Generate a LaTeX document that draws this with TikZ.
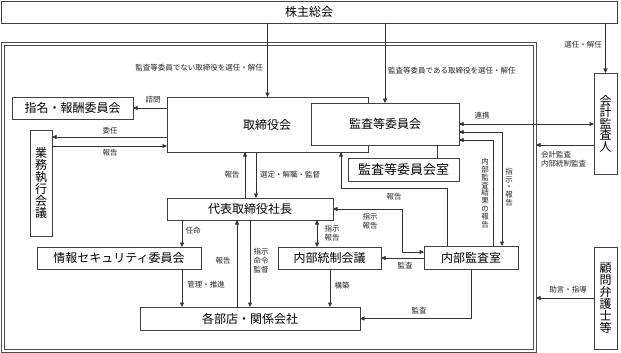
\documentclass[tikz,border=0pt]{standalone}
\usepackage{fontspec}
\setmainfont{Noto Sans CJK JP}
\usetikzlibrary{arrows.meta,calc}
\begin{document}
\begin{tikzpicture}[x=1pt,y=-1pt,
  box/.style={draw=black!75,line width=0.7pt,fill=white,inner sep=0pt,outer sep=0pt,
    anchor=north west,font=\fontsize{12}{14}\selectfont},
  vbox/.style={box,align=center,font=\fontsize{12}{12}\selectfont},
  lab/.style={inner sep=0pt,font=\fontsize{7.5}{9}\selectfont,align=center,text=black!85},
  vlab/.style={inner sep=0pt,font=\fontsize{7.5}{7.8}\selectfont,align=center,text=black!85},
  ln/.style={draw=black!80,line width=0.7pt},
  arr/.style={ln,-{Triangle[length=4.5pt,width=4pt]}},
  darr/.style={ln,{Triangle[length=4.5pt,width=4pt]}-{Triangle[length=4.5pt,width=4pt]}},
  framest/.style={draw=black!70,line width=0.7pt,inner sep=0pt,outer sep=0pt,anchor=north west}
]
\useasboundingbox (0,0) rectangle (621,353);
\fill[white] (0,0) rectangle (621,353);

% helper coordinates
\coordinate (x182) at (182,0);
\coordinate (x237) at (237,0);
\coordinate (x245) at (245,0);
\coordinate (x250) at (250,0);
\coordinate (x256) at (256,0);
\coordinate (x317) at (317,0);
\coordinate (x330) at (330,0);
\coordinate (x341) at (341,0);
\coordinate (x402) at (402,0);
\coordinate (x437) at (437,0);
\coordinate (x447) at (447,0);
\coordinate (x493) at (493,0);
\coordinate (x502) at (502,0);
\coordinate (y124) at (0,124);
\coordinate (y132) at (0,132);
\coordinate (y137) at (0,137);
\coordinate (y140) at (0,140);
\coordinate (y145) at (0,145);
\coordinate (y146) at (0,146);
\coordinate (y188) at (0,188);
\coordinate (y252) at (0,252);

% frame
\node[framest,minimum width=535pt,minimum height=310pt] (frame) at (1,42) {};
\node[framest,minimum width=529pt,minimum height=304pt] (framein) at (4,45) {};

% boxes
\node[box,minimum width=616pt,minimum height=22pt] (kabu) at (1,1) {株主総会};
\node[box,minimum width=201pt,minimum height=55pt] (tori) at (167,97) {\hspace*{0pt}};
\node[font=\fontsize{12}{14}\selectfont,inner sep=0pt] (toritext) at (267,125) {取締役会};
\node[box,minimum width=148pt,minimum height=42pt] (kansa) at (311,103) {監査等委員会};
\node[box,minimum width=111pt,minimum height=23pt,font=\fontsize{13}{15}\selectfont] (shitsu) at (348,158) {監査等委員会室};
\node[vbox,minimum width=23pt,minimum height=101pt,font=\fontsize{12}{11.5}\selectfont] (kaikei) at (594,73) {会\\計\\監\\査\\人};
\node[box,minimum width=121pt,minimum height=22pt] (shimei) at (12,97) {指名・報酬委員会};
\node[vbox,minimum width=22pt,minimum height=106pt] (gyomu) at (30,130) {業\\務\\執\\行\\会\\議};
\node[box,minimum width=166pt,minimum height=22pt] (daihyo) at (167,198) {代表取締役社長};
\node[box,minimum width=164pt,minimum height=22pt] (joho) at (37,247) {情報セキュリティ委員会};
\node[box,minimum width=103pt,minimum height=22pt] (tosei) at (278,247) {内部統制会議};
\node[box,minimum width=94pt,minimum height=23pt] (naibu) at (424,246) {内部監査室};
\node[box,minimum width=220pt,minimum height=23pt] (kakubu) at (140,307) {各部店・関係会社};
\node[vbox,minimum width=23pt,minimum height=102pt] (komon) at (594,247) {顧\\問\\弁\\護\\士\\等};

% connectors
\draw[arr] (kabu.south -| tori.north) -- (tori.north);
\draw[arr] (kabu.south -| kansa.north) -- (kansa.north);
\draw[arr] (kabu.south -| kaikei.north) -- (kaikei.north);
\draw[arr] (tori.west |- shimei.east) -- (shimei.east);
\draw[arr] (tori.west |- y137) -- (gyomu.east |- y137);
\draw[arr] (gyomu.east |- y146) -- (tori.west |- y146);
\draw[arr] (daihyo.north -| x245) -- (tori.south -| x245);
\draw[arr] (tori.south -| x256) -- (daihyo.north -| x256);
\draw[ln] (kansa.south -| x437) -- (shitsu.north -| x437);
\draw[darr] (kansa.east |- y124) -- (kaikei.west |- y124);
\draw[arr] (kaikei.west |- y145) -- (frame.east |- y145);
\draw[arr] (naibu.north -| x447) -- (x447 |- y188) -- (x341 |- y188) -- (tori.south -| x341);
\draw[arr] (naibu.north -| x493) |- (kansa.east |- y140);
\draw[darr] (kansa.east |- y132) -| (naibu.north -| x502);
\draw[darr] (daihyo.east) -| (x402 |- y252) -- (naibu.west |- y252);
\draw[darr] (daihyo.south -| x317) -- (tosei.north -| x317);
\draw[arr] (naibu.west |- tosei.east) -- (tosei.east);
\draw[arr] (daihyo.south -| x182) -- (joho.north -| x182);
\draw[arr] (joho.south -| x182) -- (kakubu.north -| x182);
\draw[arr] (kakubu.north -| x237) -- (daihyo.south -| x237);
\draw[arr] (daihyo.south -| x250) -- (kakubu.north -| x250);
\draw[arr] (tosei.south -| x330) -- (kakubu.north -| x330);
\draw[arr] (naibu.south) |- (kakubu.east);
\draw[arr] (komon.west) -- (frame.east |- komon.west);

% labels
\node[lab,anchor=east] (l1) at (263,68) {監査等委員でない取締役を選任・解任};
\node[lab,anchor=west] (l2) at (388,71) {監査等委員である取締役を選任・解任};
\node[lab] (l3) at (583,45) {選任・解任};
\node[lab] (l4) at (153,100) {諮問};
\node[lab] (l5) at (110,131) {委任};
\node[lab] (l6) at (110,153) {報告};
\node[lab] (l7) at (232,175) {報告};
\node[lab,anchor=west] (l8) at (260,175) {選定・解職・監督};
\node[lab] (l9) at (394,197) {報告};
\node[lab] (l10) at (482,116) {連携};
\node[lab,anchor=west,align=left] (l11) at (541,159) {会計監査\\内部統制監査};
\node[vlab] (l12) at (485,193) {内\\部\\監\\査\\結\\果\\の\\報\\告};
\node[vlab] (l13) at (509,187) {指\\示\\・\\報\\告};
\node[lab] (l14) at (370,221) {指示\\報告};
\node[lab] (l15) at (332,233) {指示\\報告};
\node[lab] (l16) at (405,266) {監査};
\node[lab] (l17) at (193,231) {任命};
\node[lab] (l18) at (206,285) {管理・推進};
\node[lab] (l19) at (223,261) {報告};
\node[lab] (l20) at (261,261) {指示\\命令\\監督};
\node[lab] (l21) at (342,286) {構築};
\node[lab] (l22) at (419,311) {監査};
\node[lab] (l23) at (568,290) {助言・指導};
\end{tikzpicture}
\end{document}
